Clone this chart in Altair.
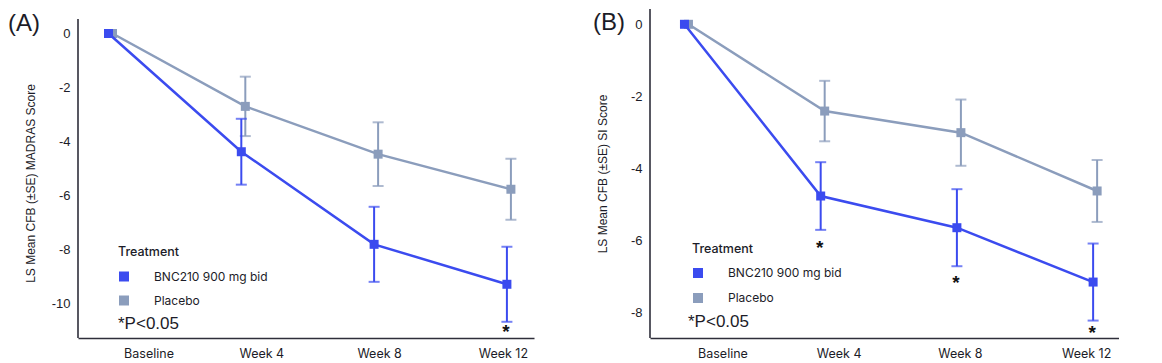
import altair as alt
import pandas as pd

# ---------------- data ----------------
weeks = [0, 4, 8, 12]
visit_labels = ["Baseline", "Week 4", "Week 8", "Week 12"]
series_names = ["BNC210 900 mg bid", "Placebo"]
series_colors = ["#3b4bef", "#8b9dbc"]

a_bnc_mean = [0.0, -4.38, -7.81, -9.29]
a_bnc_se = [0.0, 1.22, 1.39, 1.39]
a_pbo_mean = [0.0, -2.70, -4.47, -5.77]
a_pbo_se = [0.0, 1.10, 1.18, 1.13]
a_sig = [False, False, False, True]
a_star_y = [None, None, None, -10.91]

b_bnc_mean = [0.0, -4.77, -5.65, -7.16]
b_bnc_se = [0.0, 0.94, 1.07, 1.07]
b_pbo_mean = [0.0, -2.41, -3.01, -4.63]
b_pbo_se = [0.0, 0.84, 0.92, 0.86]
b_sig = [False, True, True, True]
b_star_y = [None, -6.09, -7.07, -8.46]

panel_tags = ["(A)", "(B)"]
y_titles = ["LS Mean CFB (±SE) MADRAS Score", "LS Mean CFB (±SE) SI Score"]
a_ticks = [0, -2, -4, -6, -8, -10]
b_ticks = [0, -2, -4, -6, -8]
note_text = ["*P<0.05"]
legend_title = "Treatment"

TEXT = "#1c1c28"
AXIS = "#2e2e3a"


def build_df(bnc_mean, bnc_se, pbo_mean, pbo_se, sig, star_y):
    rows = []
    for i, w in enumerate(weeks):
        rows.append(dict(week=w, series=series_names[0], mean=bnc_mean[i], se=bnc_se[i],
                         sig=sig[i], star=star_y[i]))
        rows.append(dict(week=w, series=series_names[1], mean=pbo_mean[i], se=pbo_se[i],
                         sig=False, star=None))
    return pd.DataFrame(rows)


label_expr = " : ".join(
    [f"datum.value == {w} ? '{l}'" for w, l in zip(weeks[:-1], visit_labels[:-1])]
) + f" : '{visit_labels[-1]}'"


def make_panel(df, width, height, xdom, ydom, yticks, ytitle, title_y, tag, tag_x, tag_y,
               label_offsets, legend_x, legend_y, row_pad, note_x, note_y, axis_top):
    cscale = alt.Scale(domain=series_names, range=series_colors)
    legend = alt.Legend(
        orient="none", legendX=legend_x, legendY=legend_y, title=legend_title,
        direction="vertical", symbolType="square", symbolSize=100,
        symbolStrokeWidth=0, symbolOpacity=1, labelFont="Inter", labelFontSize=12,
        labelColor=TEXT, titleFont="Inter", titleFontSize=12.5, titleFontWeight=500,
        titleColor=TEXT, titlePadding=12, rowPadding=row_pad, labelOffset=24,
        padding=0)
    col = alt.Color("series:N", scale=cscale, legend=legend)
    x = alt.X("week:Q", scale=alt.Scale(domain=xdom, nice=False, zero=False),
              axis=alt.Axis(values=weeks, labelExpr=label_expr, grid=False, ticks=False,
                            tickSize=0, domain=True, domainColor=AXIS, domainWidth=1.6,
                            labelFont="Inter", labelFontSize=12.5, labelColor=TEXT,
                            labelPadding=9,
                            labelOffset={"condition": [
                                {"test": f"datum.value == {weeks[0]}", "value": label_offsets[0]},
                                {"test": f"datum.value == {weeks[1]}", "value": label_offsets[1]},
                                {"test": f"datum.value == {weeks[2]}", "value": label_offsets[2]},
                            ], "value": label_offsets[3]},
                            title=None))
    y_axis = alt.Axis(values=yticks, labelExpr="'' + datum.value", grid=False, ticks=False,
                      tickSize=0, domain=False, labelFont="Liberation Sans", labelFontSize=13,
                      labelColor=TEXT, labelPadding=8, title=ytitle, titleFont="Liberation Sans",
                      titleFontSize=12, titleFontWeight="normal", titleColor=TEXT,
                      titleAngle=270, titleX=-44, titleY=title_y, titleAlign="center",
                      titleBaseline="alphabetic")
    y_scale = alt.Scale(domain=ydom, nice=False, zero=False)

    base = alt.Chart(df).transform_calculate(lo="datum.mean - datum.se", hi="datum.mean + datum.se")
    layers = []
    for s, off in [(series_names[1], 4), (series_names[0], 0)]:
        sb = base.transform_filter(alt.datum.series == s)
        layers.append(sb.mark_line(strokeWidth=2.5, xOffset=off).encode(
            x=x, y=alt.Y("mean:Q", scale=y_scale, axis=y_axis), color=col))
        eb = sb.transform_filter("datum.se > 0")
        layers.append(eb.mark_rule(strokeWidth=2, xOffset=off).encode(
            x=x, y="lo:Q", y2="hi:Q", color=col))
        layers.append(eb.mark_tick(orient="horizontal", thickness=2, size=11, xOffset=off).encode(
            x=x, y="lo:Q", color=col))
        layers.append(eb.mark_tick(orient="horizontal", thickness=2, size=11, xOffset=off).encode(
            x=x, y="hi:Q", color=col))
        layers.append(sb.mark_point(shape="square", filled=True, size=81, opacity=1,
                                    xOffset=off).encode(x=x, y="mean:Q", color=col))

    stars = base.transform_filter("datum.sig").mark_text(
        text="*", fontSize=19, fontWeight="bold", color="#111111", baseline="middle", dy=4, xOffset=-1
    ).encode(x=x, y="star:Q")
    layers.append(stars)

    one = alt.Chart(pd.DataFrame({"k": [0]}))
    axis_rule = one.mark_rule(color=AXIS, strokeWidth=1.6).encode(
        x=alt.value(0), y=alt.value(axis_top), y2=alt.value(height))
    tag_txt = alt.Chart(pd.DataFrame({"t": [tag]})).mark_text(
        align="left", baseline="middle", fontSize=24, font="Liberation Sans", color=TEXT
    ).encode(x=alt.value(tag_x), y=alt.value(tag_y), text="t:N")
    note = alt.Chart(pd.DataFrame({"t": note_text})).mark_text(
        align="left", baseline="middle", fontSize=17, font="Liberation Sans", color=TEXT
    ).encode(x=alt.value(note_x), y=alt.value(note_y), text="t:N")

    return alt.layer(*layers, axis_rule, tag_txt, note).properties(width=width, height=height)


df_a = build_df(a_bnc_mean, a_bnc_se, a_pbo_mean, a_pbo_se, a_sig, a_star_y)
df_b = build_df(b_bnc_mean, b_bnc_se, b_pbo_mean, b_pbo_se, b_sig, b_star_y)

panel_a = make_panel(df_a, 456, 329, [-0.919, 12.816], [-11.28, 0.907], a_ticks, y_titles[0], 174,
                     panel_tags[0], -70, 15, [40, 20, 5, -4], 40, 237, 12, 40, 315, 10)
panel_b = make_panel(df_b, 469, 329, [-1.012, 12.76], [-8.714, 0.425], b_ticks, y_titles[1], 164.5,
                     panel_tags[1], -57, 14, [38, 18, 3, -7], 42, 233.5, 13, 38, 313, 0)

chart = alt.hconcat(panel_a, panel_b, spacing=59).resolve_scale(
    color="independent").resolve_legend(color="independent").properties(
    padding={"left": 0, "top": 0, "right": 0, "bottom": 0}, background="white"
).configure_view(stroke=None)

chart.save("out.html", embed_options={"renderer": "svg", "actions": False})
